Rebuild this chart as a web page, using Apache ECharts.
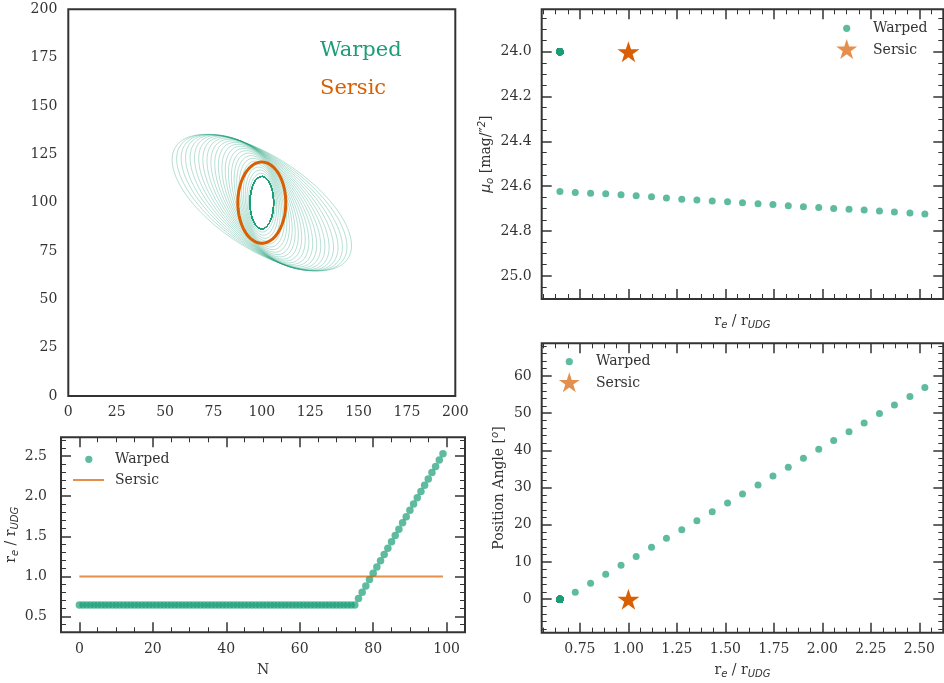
<!DOCTYPE html>
<html><head><meta charset="utf-8">
<script src="https://cdn.jsdelivr.net/npm/echarts@6/dist/echarts.min.js"></script>
<style>html,body{margin:0;padding:0;background:#fff}#c{width:944px;height:683px}</style>
</head><body><div id="c"></div>
<script>
// ---------------- data ----------------
const N = [0,1,2,3,4,5,6,7,8,9,10,11,12,13,14,15,16,17,18,19,20,21,22,23,24,25,26,27,28,29,
30,31,32,33,34,35,36,37,38,39,40,41,42,43,44,45,46,47,48,49,50,51,52,53,54,55,56,57,58,59,
60,61,62,63,64,65,66,67,68,69,70,71,72,73,74,75,76,77,78,79,80,81,82,83,84,85,86,87,88,89,
90,91,92,93,94,95,96,97,98,99];
const reWarped = [
0.647,0.647,0.647,0.647,0.647,0.647,0.647,0.647,0.647,0.647,
0.647,0.647,0.647,0.647,0.647,0.647,0.647,0.647,0.647,0.647,
0.647,0.647,0.647,0.647,0.647,0.647,0.647,0.647,0.647,0.647,
0.647,0.647,0.647,0.647,0.647,0.647,0.647,0.647,0.647,0.647,
0.647,0.647,0.647,0.647,0.647,0.647,0.647,0.647,0.647,0.647,
0.647,0.647,0.647,0.647,0.647,0.647,0.647,0.647,0.647,0.647,
0.647,0.647,0.647,0.647,0.647,0.647,0.647,0.647,0.647,0.647,
0.647,0.647,0.647,0.647,0.647,0.647,
0.726,0.805,0.883,0.962,1.040,1.119,1.196,1.275,1.353,1.432,1.511,1.588,
1.668,1.745,1.824,1.902,1.981,2.058,2.137,2.215,2.294,2.371,2.451,2.528];
const paWarped = [
0,0,0,0,0,0,0,0,0,0, 0,0,0,0,0,0,0,0,0,0, 0,0,0,0,0,0,0,0,0,0,
0,0,0,0,0,0,0,0,0,0, 0,0,0,0,0,0,0,0,0,0, 0,0,0,0,0,0,0,0,0,0,
0,0,0,0,0,0,0,0,0,0, 0,0,0,0,0,0,
1.9,4.3,6.7,9.1,11.5,14.0,16.4,18.7,21.1,23.5,25.9,28.3,
30.7,33.1,35.5,37.9,40.3,42.7,45.0,47.4,49.9,52.2,54.5,56.9];
const muWarped = [
24.0,24.0,24.0,24.0,24.0,24.0,24.0,24.0,24.0,24.0,
24.0,24.0,24.0,24.0,24.0,24.0,24.0,24.0,24.0,24.0,
24.0,24.0,24.0,24.0,24.0,24.0,24.0,24.0,24.0,24.0,
24.0,24.0,24.0,24.0,24.0,24.0,24.0,24.0,24.0,24.0,
24.0,24.0,24.0,24.0,24.0,24.0,24.0,24.0,24.0,24.0,
24.0,24.0,24.0,24.0,24.0,24.0,24.0,24.0,24.0,24.0,
24.0,24.0,24.0,24.0,24.0,24.0,24.0,24.0,24.0,24.0,
24.0,24.0,24.0,24.0,24.0,
24.624,24.628,24.631,24.634,24.638,24.643,24.647,24.653,24.658,24.661,24.666,24.669,24.674,
24.678,24.681,24.687,24.692,24.695,24.699,24.703,24.706,24.711,24.715,24.720,24.724];
const sersicRe = [1.0];
const sersicPA = [0];
const sersicMu = [24.0];
const sersicLineN = [0, 99];
const sersicLineRe = [1.0, 1.0];
// ellipse model parameters (image panel)
const imgCenter = [100, 100];
const rUDGPix = 21;
const warpedAxisRatio = 0.45;
const sersicAxisRatio = 0.59;
// tick labels
const imgTicks = [0,25,50,75,100,125,150,175,200];
const reXTicks = [0.75,1.00,1.25,1.50,1.75,2.00,2.25,2.50];
const muTicks = [24.0,24.2,24.4,24.6,24.8,25.0];
const paTicks = [0,10,20,30,40,50,60];
const nTicks = [0,20,40,60,80,100];
const reYTicks = [0.5,1.0,1.5,2.0,2.5];

// ---------------- style ----------------
const INK = '#333333', GREEN = '#1b9e77', ORANGE = '#d95f02';
const SERIF = 'DejaVu Serif', SANS = 'DejaVu Sans';
const STAR_PTS = [[100,0],[122.45,69.1],[195.11,69.1],[136.33,111.8],[158.78,180.9],[100,138.2],[41.22,180.9],[63.67,111.8],[4.89,69.1],[77.55,69.1]];
const STAR = 'M' + STAR_PTS.map(p => p.join(',')).join(' L') + ' Z';

const rich = {
  n: {fontFamily: SERIF, fontSize: 14, color: INK, lineHeight: 16, verticalAlign: 'middle'},
  m: {fontFamily: SANS, fontStyle: 'italic', fontSize: 14, color: INK, lineHeight: 16, verticalAlign: 'middle'},
  s: {fontFamily: SANS, fontStyle: 'italic', fontSize: 10, color: INK, lineHeight: 12, padding: [8,0,0,0], verticalAlign: 'middle'},
  p: {fontFamily: SANS, fontStyle: 'italic', fontSize: 10, color: INK, lineHeight: 12, padding: [0,0,8,0], verticalAlign: 'middle'}
};
const reName = '{n|r}{s|e}{n| / r}{s|UDG}';

const grids = [
  {left: 68.3, top: 9.3, width: 387, height: 386.7},
  {left: 541.7, top: 9.3, width: 401.6, height: 289.7},
  {left: 541.7, top: 343.3, width: 401.6, height: 289.4},
  {left: 61, top: 437.3, width: 404, height: 195}
].map(g => Object.assign({show: true, borderColor: INK, borderWidth: 2, backgroundColor: 'rgba(0,0,0,0)'}, g));

function minorVals(min, max, step, majors) {
  const out = [];
  for (let k = Math.ceil((min - 1e-9) / step); k * step <= max + 1e-9; k++) {
    const v = +(k * step).toFixed(6);
    if (!majors.some(m => Math.abs(m - v) < 1e-6)) out.push(v);
  }
  return out;
}
function tickAxis(base, values, len, width) {
  return Object.assign({
    type: 'value', axisLine: {show: false, onZero: false}, splitLine: {show: false},
    axisTick: {show: true, inside: true, length: len, customValues: values, lineStyle: {color: INK, width: width}},
    axisLabel: {show: false}, silent: true
  }, base);
}
function panelAxes(dim, gridIndex, min, max, majors, step, inverse, label, name) {
  const sides = dim === 'x' ? ['bottom', 'top'] : ['left', 'right'];
  const minors = minorVals(min, max, step, majors);
  const common = {gridIndex, min, max, inverse: !!inverse};
  const main = tickAxis(Object.assign({position: sides[0]}, common), majors, 10, 1.5);
  if (label) main.axisLabel = Object.assign({show: true, customValues: majors, color: INK, fontFamily: SERIF, fontSize: 14}, label);
  if (name) Object.assign(main, name);
  return [main,
    tickAxis(Object.assign({position: sides[0]}, common), minors, 5, 1),
    tickAxis(Object.assign({position: sides[1]}, common), majors, 10, 1.5),
    tickAxis(Object.assign({position: sides[1]}, common), minors, 5, 1)];
}
const nameStyle = {fontFamily: SERIF, fontSize: 14, color: INK, rich: rich};

const xAxes = [
  {type: 'value', gridIndex: 0, min: 0, max: 200, interval: 25, position: 'bottom',
   axisLine: {show: false, onZero: false}, axisTick: {show: false}, splitLine: {show: false},
   axisLabel: {margin: 9, color: INK, fontFamily: SERIF, fontSize: 14}},
  ...panelAxes('x', 1, 0.553, 2.623, reXTicks, 0.0625, false, null,
    {name: reName, nameLocation: 'middle', nameGap: 14, nameTextStyle: nameStyle}),
  ...panelAxes('x', 2, 0.553, 2.623, reXTicks, 0.0625, false,
    {margin: 10, formatter: v => v.toFixed(2)},
    {name: reName, nameLocation: 'middle', nameGap: 30, nameTextStyle: nameStyle}),
  ...panelAxes('x', 3, -5, 105, nTicks, 5, false,
    {margin: 10, formatter: v => String(v)},
    {name: 'N', nameLocation: 'middle', nameGap: 31, nameTextStyle: nameStyle})
];
const yAxes = [
  {type: 'value', gridIndex: 0, min: 0, max: 200, interval: 25, position: 'left',
   axisLine: {show: false, onZero: false}, axisTick: {show: false}, splitLine: {show: false},
   axisLabel: {margin: 11, color: INK, fontFamily: SERIF, fontSize: 14}},
  ...panelAxes('y', 1, 23.811, 25.103, muTicks, 0.05, true,
    {margin: 10, formatter: v => v.toFixed(1)},
    {name: '{m|μ}{s|o}{n| [mag/″}{p|2}{n|]}', nameLocation: 'middle', nameGap: 47, nameTextStyle: nameStyle}),
  ...panelAxes('y', 2, -9, 68.8, paTicks, 2, false,
    {margin: 10, formatter: v => String(v)},
    {name: '{n|Position Angle [}{p|o}{n|]}', nameLocation: 'middle', nameGap: 34, nameTextStyle: nameStyle}),
  ...panelAxes('y', 3, 0.306, 2.733, reYTicks, 0.1, false,
    {margin: 14, formatter: v => v.toFixed(1)},
    {name: reName, nameLocation: 'middle', nameGap: 38, nameTextStyle: nameStyle})
];

function ellipse(reVal, paDeg, q) {
  const a = reVal * rUDGPix, b = a * q, th = paDeg * Math.PI / 180;
  const pts = [];
  for (let k = 0; k <= 120; k++) {
    const t = 2 * Math.PI * k / 120;
    const u = b * Math.cos(t), v = a * Math.sin(t);
    pts.push([imgCenter[0] + u * Math.cos(th) - v * Math.sin(th),
              imgCenter[1] + u * Math.sin(th) + v * Math.cos(th)]);
  }
  return pts;
}

const series = [];
reWarped.forEach((r, i) => {
  series.push({type: 'line', name: 'Warped', xAxisIndex: 0, yAxisIndex: 0, data: ellipse(r, paWarped[i], warpedAxisRatio),
    symbol: 'none', silent: true, lineStyle: {color: GREEN, width: 0.8, opacity: 0.4}, z: 2});
});
series.push({type: 'line', name: 'Sersic', xAxisIndex: 0, yAxisIndex: 0, data: ellipse(sersicRe[0], sersicPA[0], sersicAxisRatio),
  symbol: 'none', silent: true, lineStyle: {color: ORANGE, width: 3}, z: 3});

series.push({type: 'scatter', name: 'Warped', xAxisIndex: 1, yAxisIndex: 1,
  data: reWarped.map((r, i) => [r, muWarped[i]]), symbolSize: 7, itemStyle: {color: GREEN, opacity: 0.7}});
series.push({type: 'scatter', name: 'Sersic', xAxisIndex: 1, yAxisIndex: 1,
  data: sersicRe.map((r, i) => [r, sersicMu[i]]), symbol: 'path://' + STAR, symbolSize: 22, symbolKeepAspect: true,
  itemStyle: {color: ORANGE, opacity: 1}});
series.push({type: 'scatter', name: 'Warped', xAxisIndex: 5, yAxisIndex: 5,
  data: reWarped.map((r, i) => [r, paWarped[i]]), symbolSize: 7, itemStyle: {color: GREEN, opacity: 0.7}});
series.push({type: 'scatter', name: 'Sersic', xAxisIndex: 5, yAxisIndex: 5,
  data: sersicRe.map((r, i) => [r, sersicPA[i]]), symbol: 'path://' + STAR, symbolSize: 22, symbolKeepAspect: true,
  itemStyle: {color: ORANGE, opacity: 1}});
series.push({type: 'scatter', name: 'Warped', xAxisIndex: 9, yAxisIndex: 9,
  data: N.map((n, i) => [n, reWarped[i]]), symbolSize: 7.5, itemStyle: {color: GREEN, opacity: 0.7}});
series.push({type: 'line', name: 'Sersic', xAxisIndex: 9, yAxisIndex: 9,
  data: sersicLineN.map((n, i) => [n, sersicLineRe[i]]), symbol: 'none',
  lineStyle: {color: ORANGE, width: 2, opacity: 0.7}});

function legendText(x, y, text) {
  return {type: 'text', x: x, y: y, style: {text: text, fill: INK, font: '14px "DejaVu Serif"', verticalAlign: 'middle', align: 'left'}};
}
function legendStar(cx, cy) {
  const s = 21 / 190.22;
  return {type: 'polygon', shape: {points: STAR_PTS.map(p => [cx + (p[0] - 100) * s, cy + (p[1] - 100) * s])},
    style: {fill: ORANGE, opacity: 0.7}};
}
function legendDot(cx, cy) {
  return {type: 'circle', shape: {cx: cx, cy: cy, r: 3.6}, style: {fill: GREEN, opacity: 0.7}};
}
const graphic = [
  {type: 'text', x: 320, y: 51, style: {text: 'Warped', fill: GREEN, font: '21px "DejaVu Serif"', verticalAlign: 'middle'}},
  {type: 'text', x: 320, y: 89, style: {text: 'Sersic', fill: ORANGE, font: '21px "DejaVu Serif"', verticalAlign: 'middle'}},
  legendDot(846.7, 28.3), legendText(873, 28.3, 'Warped'),
  legendStar(846.7, 50), legendText(873, 50, 'Sersic'),
  legendDot(569.3, 361.7), legendText(596, 361.7, 'Warped'),
  legendStar(569.3, 383.3), legendText(596, 383.3, 'Sersic'),
  legendDot(88.8, 459.3), legendText(115, 459.3, 'Warped'),
  {type: 'line', shape: {x1: 73, y1: 480, x2: 104, y2: 480}, style: {stroke: ORANGE, lineWidth: 2, opacity: 0.7}},
  legendText(115, 480, 'Sersic')
];

const chart = echarts.init(document.getElementById('c'), null, {renderer: 'canvas', width: 944, height: 683});
chart.setOption({
  animation: false,
  backgroundColor: '#ffffff',
  grid: grids,
  xAxis: xAxes,
  yAxis: yAxes,
  series: series,
  graphic: graphic
});
</script>
</body></html>
